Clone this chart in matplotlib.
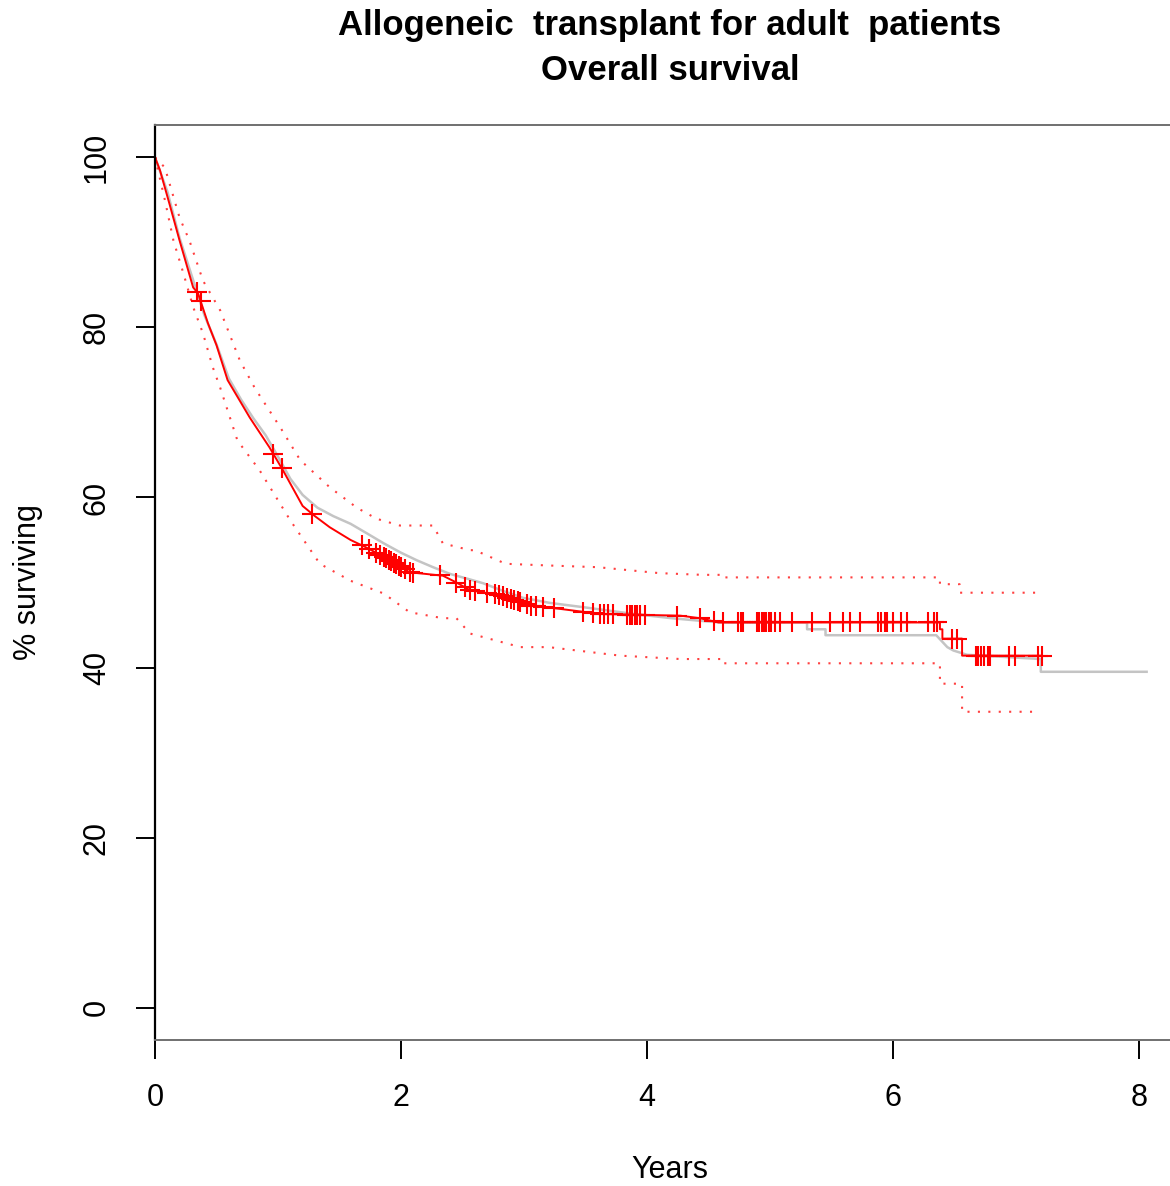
import numpy as np
import matplotlib
matplotlib.use("Agg")
import matplotlib.pyplot as plt

# Kaplan-Meier estimate (red), vertices
km_t = [0, 0.04, 0.12, 0.2, 0.31, 0.35, 0.43, 0.5, 0.59, 0.77, 0.93, 1.04,
        1.2, 1.3, 1.42, 1.59, 1.72, 1.91, 2.07, 2.34, 2.45, 2.56, 2.8, 3.05,
        3.29, 3.62, 4.27, 4.43, 4.58, 6.38, 6.38, 6.4, 6.4, 6.56, 6.56, 7.21]
km_s = [100, 98.5, 94.4, 90.2, 84.7, 84.0, 80.5, 77.9, 73.8, 69.4, 65.9, 63.2,
        59.0, 57.8, 56.5, 55.0, 54.1, 52.6, 51.2, 50.8, 50.0, 49.1, 48.5, 47.3,
        46.9, 46.3, 46.1, 45.8, 45.3, 45.3, 44.5, 44.5, 43.4, 43.4, 41.4, 41.4]

# censored observations
cens_t = [0.34, 0.37, 0.96, 1.03, 1.28, 1.68, 1.74, 1.8, 1.83, 1.86, 1.88,
          1.9, 1.92, 1.94, 1.96, 1.98, 2.0, 2.03, 2.07, 2.1, 2.32, 2.45, 2.52,
          2.56, 2.6, 2.7, 2.76, 2.8, 2.83, 2.86, 2.89, 2.92, 2.95, 2.97, 3.02,
          3.06, 3.1, 3.15, 3.24, 3.48, 3.56, 3.62, 3.65, 3.68, 3.72, 3.84, 3.86,
          3.88, 3.9, 3.92, 3.94, 3.98, 4.24, 4.43, 4.54, 4.62, 4.74, 4.76, 4.78,
          4.89, 4.91, 4.93, 4.95, 4.97, 4.99, 5.01, 5.04, 5.08, 5.18, 5.34,
          5.49, 5.59, 5.65, 5.73, 5.88, 5.9, 5.93, 5.95, 6.0, 6.06, 6.11, 6.28,
          6.33, 6.36, 6.48, 6.52, 6.67, 6.69, 6.71, 6.74, 6.77, 6.79, 6.94,
          6.99, 7.18, 7.21]

# confidence band (red dotted)
up_t = [0, 0.08, 0.2, 0.28, 0.39, 0.53, 0.69, 0.81, 1.02, 1.18, 1.42, 1.64,
        1.8, 1.99, 2.26, 2.34, 2.56, 2.6, 2.85, 3.2, 3.6, 4.1, 4.45, 4.62,
        4.62, 6.38, 6.38, 6.54, 6.54, 7.21]
up_s = [100, 98.8, 92.9, 90.2, 85.5, 82.0, 76.1, 72.9, 68.2, 64.4, 61.2, 58.8,
        57.5, 56.7, 56.7, 54.6, 53.8, 53.8, 52.2, 52.0, 51.8, 51.1, 50.9, 50.9,
        50.6, 50.6, 49.8, 49.8, 48.8, 48.8]
lo_t = [0, 0.08, 0.15, 0.23, 0.31, 0.39, 0.47, 0.53, 0.67, 0.85, 1.1, 1.34,
        1.59, 1.86, 2.07, 2.34, 2.45, 2.56, 2.97, 3.2, 3.78, 4.27, 4.62, 4.62,
        6.38, 6.38, 6.56, 6.56, 7.17]
lo_s = [100, 95.0, 90.2, 86.4, 82.4, 79.3, 75.3, 72.9, 66.7, 63.2, 57.3, 52.2,
        50.2, 48.7, 46.5, 45.8, 45.8, 44.0, 42.4, 42.4, 41.4, 41.0, 41.0, 40.5,
        40.5, 38.1, 38.1, 34.8, 34.8]

# grey reference curve
grey_t = [0, 0.1, 0.2, 0.3, 0.4, 0.5, 0.6, 0.7, 0.8, 0.9, 1.0, 1.1, 1.2, 1.32,
          1.45, 1.59, 1.72, 1.86, 2.0, 2.13, 2.26, 2.4, 2.55, 2.67, 2.83, 2.99,
          3.21, 3.48, 3.89, 4.2, 4.43, 4.6, 5.3, 5.3, 5.45, 5.45, 6.35, 6.44,
          6.49, 6.6, 7.2, 7.2, 8.06]
grey_s = [100, 96, 90.5, 86, 81.5, 78, 74, 71.5, 69.3, 67.3, 64.8, 62.2, 60.3,
          58.8, 57.8, 56.9, 55.8, 54.6, 53.5, 52.6, 51.8, 51.0, 50.4, 49.9,
          49.0, 48.2, 47.6, 47.1, 46.3, 45.8, 45.5, 45.3, 45.3, 44.5, 44.5,
          43.8, 43.8, 42.4, 42.0, 41.5, 41.0, 39.5, 39.5]

xticks = [0, 2, 4, 6, 8]
yticks = [0, 20, 40, 60, 80, 100]

plt.rcParams['font.family'] = ['Liberation Sans', 'DejaVu Sans']

fig = plt.figure(figsize=(11.7, 11.86), dpi=100)
ax = fig.add_axes([155 / 1170, 146 / 1186, 1015 / 1170, 915 / 1186])

ax.plot(grey_t, grey_s, color='#c4c4c4', lw=1.8)
ax.plot(up_t, up_s, color='red', alpha=0.75, lw=1.5, linestyle=(0, (1, 4)))
ax.plot(lo_t, lo_s, color='red', alpha=0.75, lw=1.5, linestyle=(0, (1, 4)))
ax.plot(km_t, km_s, color='red', lw=1.4)

# censor marks sit on the curve
cens_s = np.interp(cens_t, km_t, km_s)
ax.plot(cens_t, cens_s, linestyle='none', marker='+', color='red',
        markersize=15, mew=1.5)

ax.set_xlim(0, 8.25)
ax.set_ylim(-3.8, 103.8)
ax.set_xticks(xticks)
ax.set_yticks(yticks)
ax.set_xticklabels([str(v) for v in xticks])
ax.set_yticklabels([str(v) for v in yticks], rotation=90, va='center')
ax.tick_params(direction='out', length=14, width=1.4, labelsize=22, pad=17)

ax.spines['right'].set_visible(False)
ax.spines['left'].set_linewidth(1.6)
ax.spines['left'].set_color('black')
for s in ['top', 'bottom']:
    ax.spines[s].set_linewidth(1.4)
    ax.spines[s].set_color('#707070')

fig.text(670 / 1170, 1 - 25 / 1186, 'Allogeneic  transplant for adult  patients',
         ha='center', va='center', fontsize=25, fontweight='bold')
fig.text(670 / 1170, 1 - 70 / 1186, 'Overall survival',
         ha='center', va='center', fontsize=25, fontweight='bold')
fig.text(670 / 1170, 1 - 1170 / 1186, 'Years', ha='center', va='center',
         fontsize=22)
fig.text(28 / 1170, 1 - 582 / 1186, '% surviving', ha='center', va='center',
         rotation=90, fontsize=22)

fig.savefig('out.png', dpi=100)
